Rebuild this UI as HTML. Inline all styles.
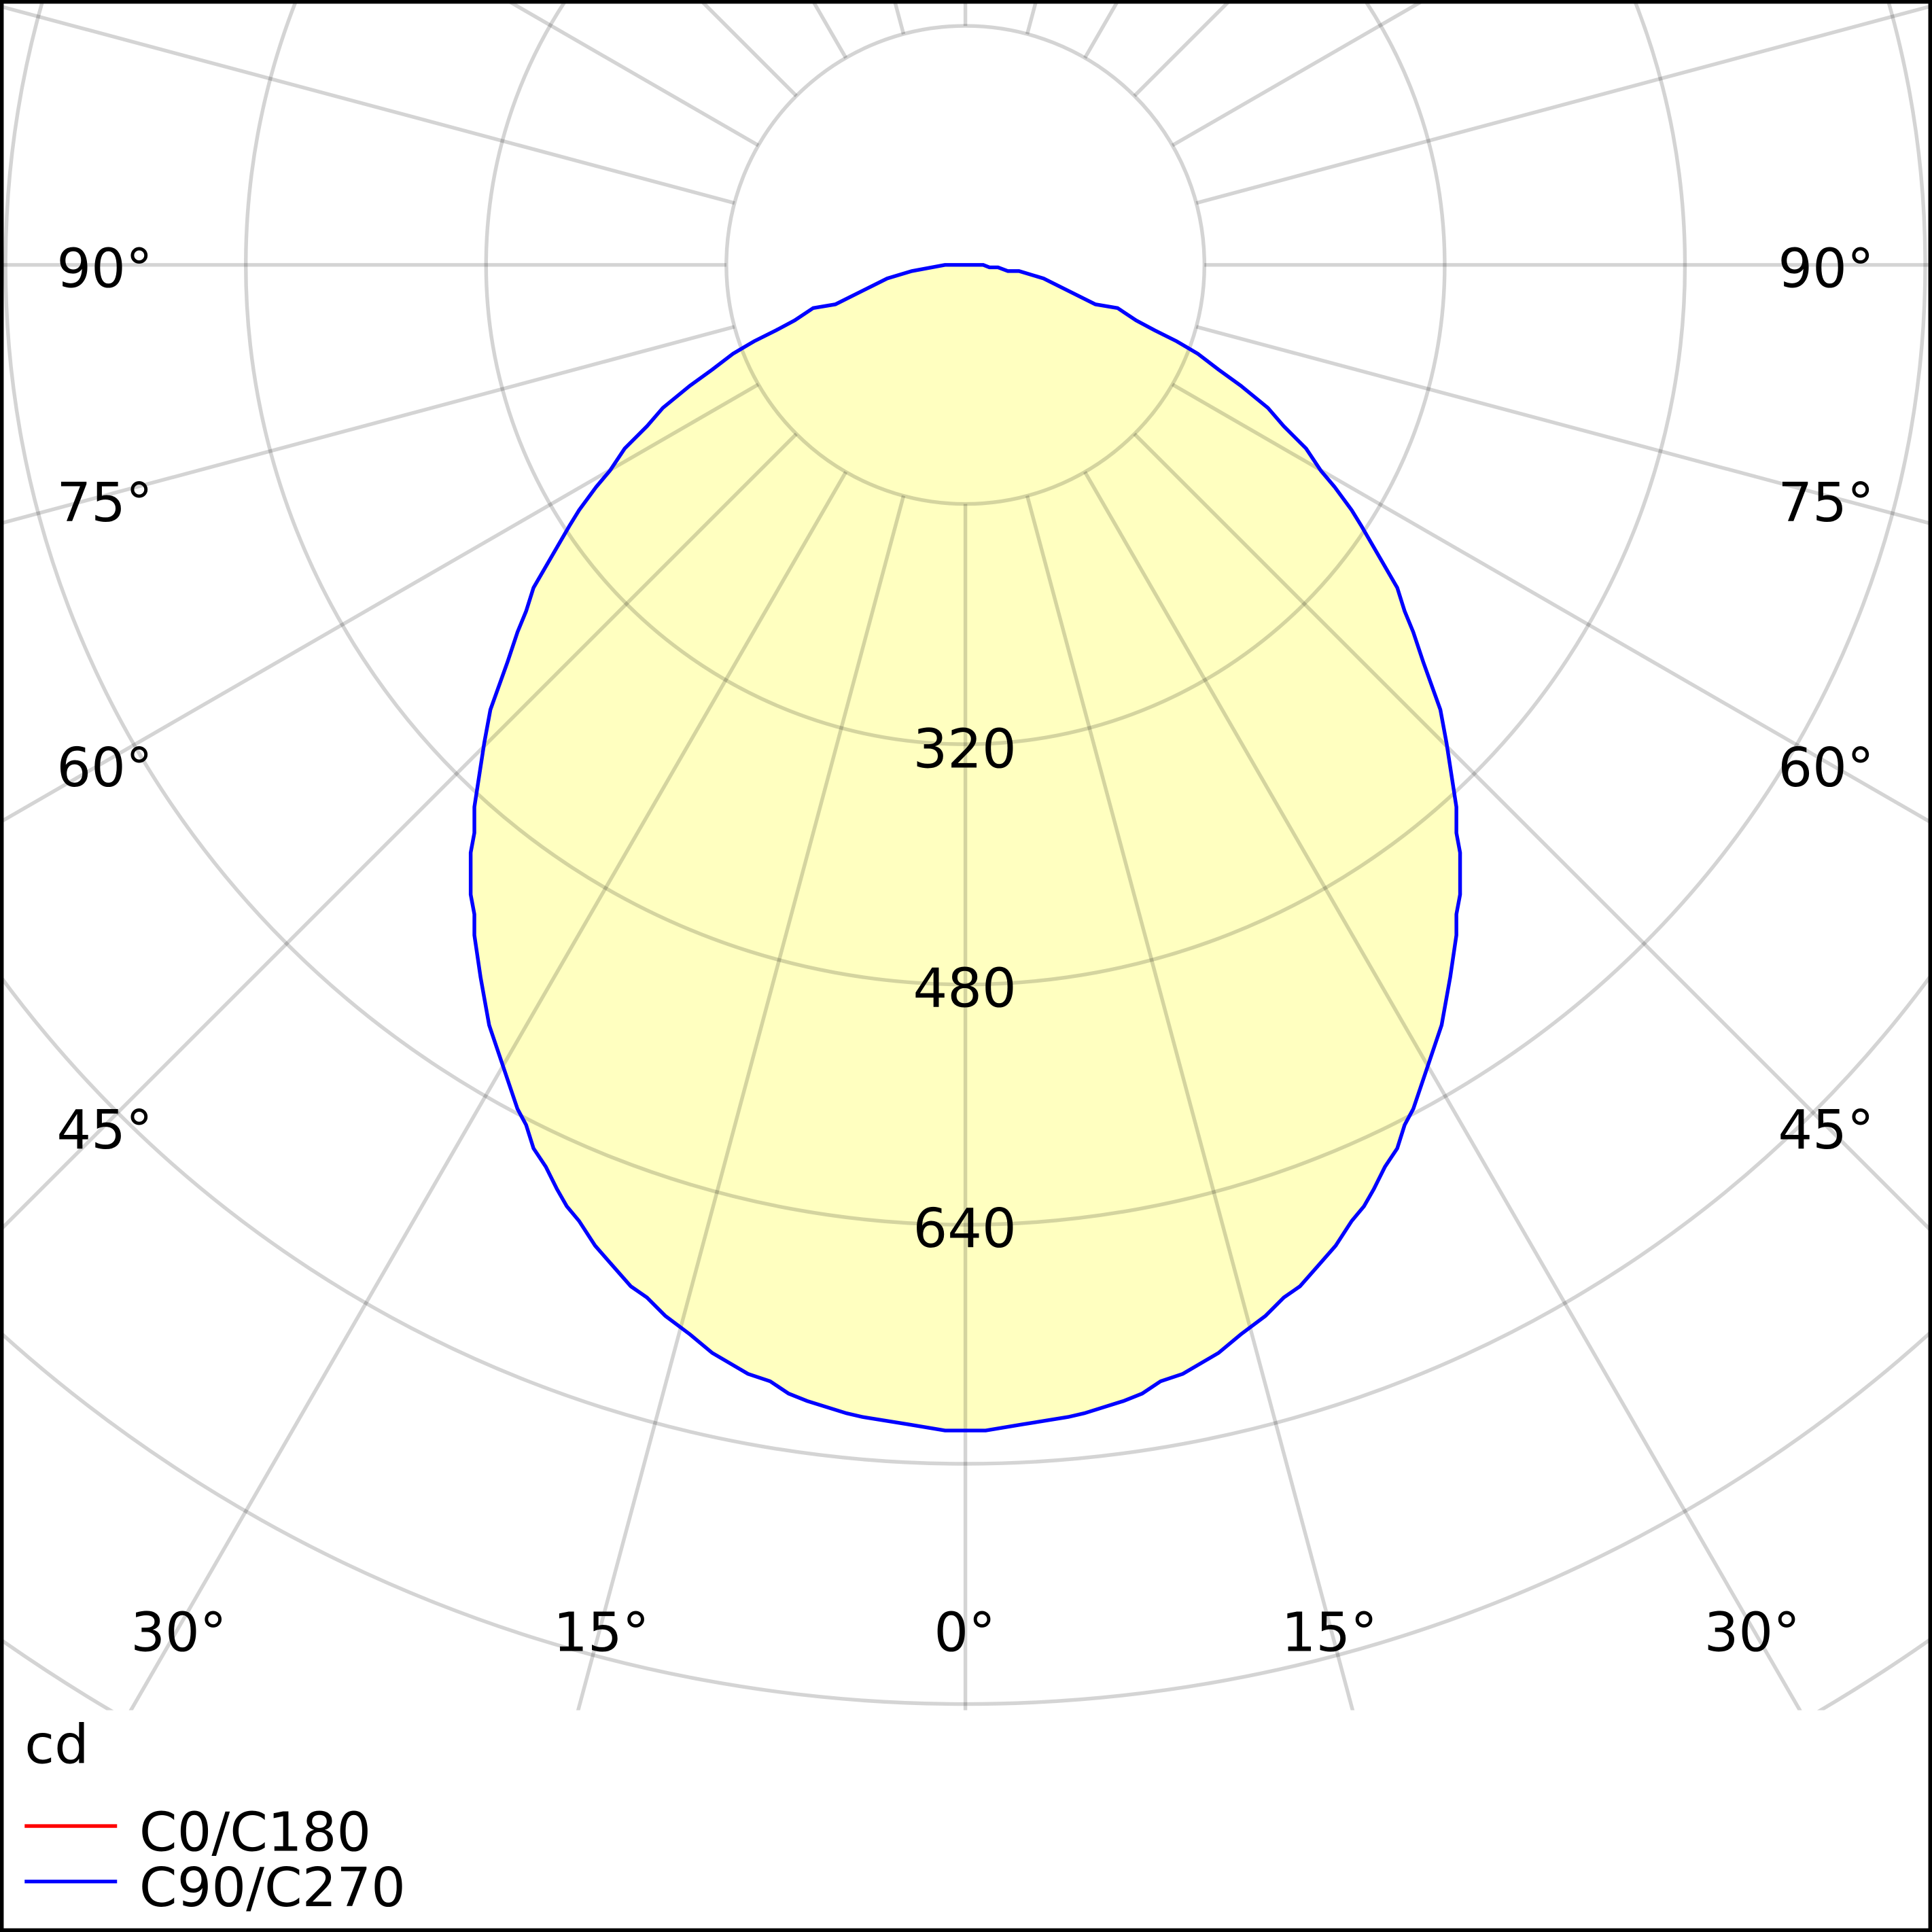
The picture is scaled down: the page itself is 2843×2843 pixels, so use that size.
<!DOCTYPE html>
<html><head><meta charset="utf-8"><style>
html,body{margin:0;padding:0;background:#fff;overflow:hidden;width:2843px;height:2843px;position:relative;}
svg{display:block;position:absolute;left:0;top:0;}
text{font-family:"DejaVu Sans","Liberation Sans",sans-serif;fill:#000;}
</style></head><body>
<svg width="2843" height="2843" viewBox="0 0 1568 1568" xmlns="http://www.w3.org/2000/svg">
<defs><clipPath id="c"><rect x="0" y="0" width="1568" height="1388"/></clipPath>
<mask id="m"><rect x="0" y="0" width="1568" height="1568" fill="#fff"/><circle cx="783.5" cy="215" r="194" fill="#000"/></mask></defs>
<rect width="1568" height="1568" fill="#fff"/>
<polygon fill="#ffffc0" stroke="none" points="767,215 740,220 720,226 708,232 678,247 660,250 645,260 630,268 612,277 595,287 578,300 560,313 538,331 525,346 507,364 495,382 484,395 470,414 462,427 433,477 427,496 420,513 412,537 398,576 393,603 385,655 385,676 382,692 382,726 385,742 385,759 390,793 397,832 420,900 427,913 433,932 443,947 452,965 460,979 470,991 483,1011 497,1027 512,1044 525,1053 540,1068 560,1083 578,1098 607,1115 625,1121 640,1131 655,1137 687,1147 700,1150 737,1156 767,1161 800,1161 830,1156 867,1150 880,1147 912,1137 927,1131 942,1121 960,1115 989,1098 1007,1083 1027,1068 1042,1053 1055,1044 1070,1027 1084,1011 1097,991 1107,979 1115,965 1124,947 1134,932 1140,913 1147,900 1170,832 1177,793 1182,759 1182,742 1185,726 1185,692 1182,676 1182,655 1174,603 1169,576 1155,537 1147,513 1140,496 1134,477 1105,427 1097,414 1083,395 1072,382 1060,364 1042,346 1029,331 1007,313 989,300 972,287 955,277 937,268 922,260 907,250 889,247 859,232 847,226 827,220 818,220 810,217 803,217 798,215"/>
<g clip-path="url(#c)" stroke="#000" stroke-opacity="0.17" stroke-width="3" fill="none">
<g mask="url(#m)">
<line x1="783.5" y1="215" x2="783.5" y2="2215"/>
<line x1="783.5" y1="215" x2="783.5" y2="-1785"/>
<line x1="783.5" y1="215" x2="2783.5" y2="215"/>
<line x1="783.5" y1="215" x2="-1216.5" y2="215"/>
<line x1="783.5" y1="215" x2="1301.1" y2="2146.9"/>
<line x1="783.5" y1="215" x2="265.9" y2="2146.9"/>
<line x1="783.5" y1="215" x2="1783.5" y2="1947"/>
<line x1="783.5" y1="215" x2="-216.5" y2="1947"/>
<line x1="783.5" y1="215" x2="2197.7" y2="1629.2"/>
<line x1="783.5" y1="215" x2="-630.7" y2="1629.2"/>
<line x1="783.5" y1="215" x2="2515.5" y2="1215"/>
<line x1="783.5" y1="215" x2="-948.5" y2="1215"/>
<line x1="783.5" y1="215" x2="2715.4" y2="732.6"/>
<line x1="783.5" y1="215" x2="-1148.4" y2="732.6"/>
<line x1="783.5" y1="215" x2="2715.4" y2="-302.6"/>
<line x1="783.5" y1="215" x2="-1148.4" y2="-302.6"/>
<line x1="783.5" y1="215" x2="2515.5" y2="-785"/>
<line x1="783.5" y1="215" x2="-948.5" y2="-785"/>
<line x1="783.5" y1="215" x2="2197.7" y2="-1199.2"/>
<line x1="783.5" y1="215" x2="-630.7" y2="-1199.2"/>
<line x1="783.5" y1="215" x2="1783.5" y2="-1517"/>
<line x1="783.5" y1="215" x2="-216.5" y2="-1517"/>
<line x1="783.5" y1="215" x2="1301.1" y2="-1716.9"/>
<line x1="783.5" y1="215" x2="265.9" y2="-1716.9"/>
</g>
<circle cx="783.5" cy="215" r="194"/>
<circle cx="783.5" cy="215" r="389"/>
<circle cx="783.5" cy="215" r="584"/>
<circle cx="783.5" cy="215" r="779"/>
<circle cx="783.5" cy="215" r="973"/>
<circle cx="783.5" cy="215" r="1168"/>
<circle cx="783.5" cy="215" r="1363"/>
<circle cx="783.5" cy="215" r="1558"/>
</g>
<polygon fill="none" stroke="#0000ff" stroke-width="3" points="767,215 740,220 720,226 708,232 678,247 660,250 645,260 630,268 612,277 595,287 578,300 560,313 538,331 525,346 507,364 495,382 484,395 470,414 462,427 433,477 427,496 420,513 412,537 398,576 393,603 385,655 385,676 382,692 382,726 385,742 385,759 390,793 397,832 420,900 427,913 433,932 443,947 452,965 460,979 470,991 483,1011 497,1027 512,1044 525,1053 540,1068 560,1083 578,1098 607,1115 625,1121 640,1131 655,1137 687,1147 700,1150 737,1156 767,1161 800,1161 830,1156 867,1150 880,1147 912,1137 927,1131 942,1121 960,1115 989,1098 1007,1083 1027,1068 1042,1053 1055,1044 1070,1027 1084,1011 1097,991 1107,979 1115,965 1124,947 1134,932 1140,913 1147,900 1170,832 1177,793 1182,759 1182,742 1185,726 1185,692 1182,676 1182,655 1174,603 1169,576 1155,537 1147,513 1140,496 1134,477 1105,427 1097,414 1083,395 1072,382 1060,364 1042,346 1029,331 1007,313 989,300 972,287 955,277 937,268 922,260 907,250 889,247 859,232 847,226 827,220 818,220 810,217 803,217 798,215"/>
<g font-size="44" text-anchor="middle">
<text x="783" y="623">320</text>
<text x="783" y="817">480</text>
<text x="783" y="1012">640</text>
<text x="85" y="233">90°</text><text x="1482" y="233">90°</text>
<text x="85" y="423">75°</text><text x="1482" y="423">75°</text>
<text x="85" y="638">60°</text><text x="1482" y="638">60°</text>
<text x="85" y="932">45°</text><text x="1482" y="932">45°</text>
<text x="145" y="1340">30°</text><text x="1422" y="1340">30°</text>
<text x="488" y="1340">15°</text><text x="1079" y="1340">15°</text>
<text x="783" y="1340">0°</text>
</g>
<text x="20" y="1431" font-size="44">cd</text>
<line x1="20" y1="1482" x2="95" y2="1482" stroke="#ff0000" stroke-width="3"/>
<line x1="20" y1="1527" x2="95" y2="1527" stroke="#0000ff" stroke-width="3"/>
<text x="113" y="1502" font-size="44">C0/C180</text>
<text x="113" y="1547" font-size="44">C90/C270</text>
<rect x="1.5" y="1.5" width="1565" height="1565" fill="none" stroke="#000" stroke-width="3"/>
</svg>
</body></html>
